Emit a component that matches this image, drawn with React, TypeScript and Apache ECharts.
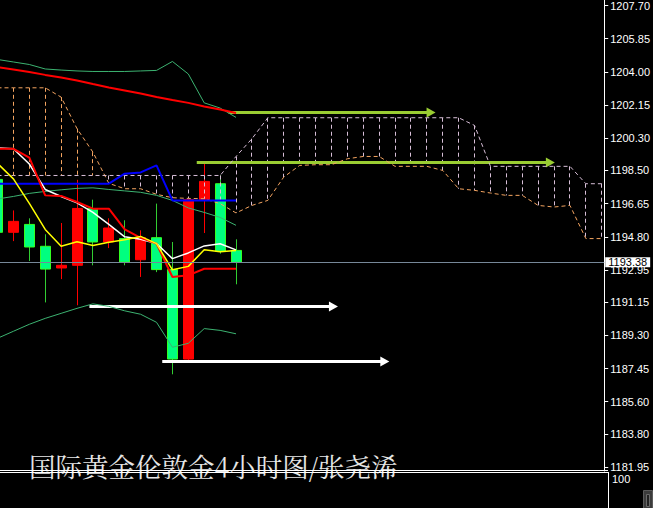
import React, { useEffect, useRef } from 'react';
import * as echarts from 'echarts';

// ---------- data ----------
const TITLE = '国际黄金伦敦金4小时图/张尧浠';
const SUB_WINDOW_LABEL = '100';
const Y_TICK_LABELS = ['1207.70', '1205.85', '1204.00', '1202.15', '1200.30', '1198.50', '1196.65', '1194.80', '1192.95', '1191.15', '1189.30', '1187.45', '1185.60', '1183.80', '1181.95'];
const CURRENT_PRICE = 1193.38;

// candles (index 0 is the partly hidden one at the left edge)
const CANDLE_OPEN = [1198.00, 1195.05, 1195.49, 1194.27, 1193.06, 1193.21, 1196.37, 1194.51, 1194.70, 1193.52, 1194.75, 1192.97, 1187.98, 1196.87, 1197.76, 1194.04];
const CANDLE_CLOSE = [1195.05, 1195.66, 1194.23, 1193.00, 1193.21, 1196.38, 1194.51, 1195.29, 1193.39, 1194.75, 1192.97, 1187.98, 1196.87, 1197.89, 1194.00, 1193.38];
const CANDLE_LOW = [1194.60, 1194.56, 1193.45, 1191.14, 1192.44, 1190.98, 1193.21, 1194.17, 1193.21, 1192.56, 1192.83, 1187.13, 1187.76, 1195.01, 1193.86, 1192.15];
const CANDLE_HIGH = [1198.30, 1196.27, 1195.83, 1194.94, 1195.57, 1197.98, 1196.87, 1195.83, 1195.72, 1195.16, 1196.65, 1194.51, 1196.90, 1198.88, 1198.22, 1194.66];

// indicators on the candles
const BB_UPPER = [1204.69, 1204.55, 1204.41, 1204.16, 1204.10, 1204.05, 1204.02, 1204.02, 1204.02, 1204.05, 1204.08, 1204.58, 1203.88, 1202.27, 1201.98, 1201.46];
const BB_MID = [1196.91, 1197.05, 1197.22, 1197.33, 1197.42, 1197.50, 1197.53, 1197.44, 1197.36, 1197.28, 1197.11, 1196.83, 1196.41, 1196.16, 1195.88, 1195.44];
const BB_LOWER = [1189.14, 1189.53, 1189.92, 1190.25, 1190.53, 1190.81, 1191.06, 1190.92, 1190.67, 1190.48, 1190.03, 1188.64, 1188.86, 1189.68, 1189.58, 1189.39];
const MA_SLOW = [1204.27, 1204.13, 1203.99, 1203.83, 1203.69, 1203.52, 1203.32, 1203.13, 1202.96, 1202.79, 1202.60, 1202.43, 1202.27, 1202.07, 1201.90, 1201.71];
const TENKAN = [1199.71, 1199.71, 1199.21, 1197.11, 1197.08, 1196.74, 1196.37, 1196.37, 1195.21, 1194.74, 1194.42, 1192.56, 1192.65, 1193.02, 1193.02, 1193.02];
const KIJUN = [1197.76, 1197.76, 1197.76, 1197.76, 1197.76, 1197.76, 1197.76, 1197.76, 1198.32, 1198.39, 1198.78, 1196.83, 1196.83, 1196.83, 1196.83, 1196.83];
const MA_WHITE = [1199.76, 1199.71, 1198.86, 1197.44, 1197.05, 1196.69, 1196.16, 1195.49, 1194.80, 1194.66, 1194.43, 1193.58, 1193.90, 1194.29, 1194.41, 1194.07];
const MA_YELLOW = [1198.89, 1198.03, 1196.66, 1195.21, 1194.27, 1194.52, 1194.32, 1194.49, 1194.63, 1194.82, 1194.42, 1192.96, 1193.15, 1194.08, 1193.96, 1194.04];

// Ichimoku cloud (runs 23 bars past the last candle)
const SPAN_A = [1203.11, 1203.11, 1203.11, 1203.11, 1202.59, 1200.83, 1199.52, 1197.78, 1197.48, 1197.48, 1197.17, 1196.98, 1196.94, 1196.92, 1196.65, 1196.13, 1196.55, 1196.83, 1198.13, 1198.78, 1198.82, 1198.82, 1199.15, 1199.28, 1199.28, 1198.73, 1198.73, 1198.73, 1198.50, 1197.48, 1197.39, 1197.24, 1197.11, 1197.11, 1196.55, 1196.46, 1196.55, 1194.70, 1194.70];
const SPAN_B = [1198.22, 1198.22, 1198.22, 1198.22, 1198.22, 1198.22, 1198.22, 1198.22, 1198.22, 1198.22, 1198.22, 1198.22, 1198.22, 1198.22, 1198.22, 1199.28, 1200.27, 1201.44, 1201.44, 1201.44, 1201.44, 1201.44, 1201.44, 1201.44, 1201.44, 1201.44, 1201.44, 1201.44, 1201.44, 1201.44, 1201.01, 1198.73, 1198.73, 1198.73, 1198.73, 1198.73, 1198.73, 1197.76, 1197.76];

// hand-drawn arrows (bar index start / end, price)
const GREEN_ARROW_START = [14.53, 12.53];
const GREEN_ARROW_END = [27.55, 35.05];
const GREEN_ARROW_PRICE = [1201.75, 1198.97];
const WHITE_ARROW_START = [5.78, 10.36];
const WHITE_ARROW_END = [21.41, 24.64];
const WHITE_ARROW_PRICE = [1190.94, 1187.87];

// ---------- helpers ----------
const toLine = (arr: number[]) => arr.map((v, i) => [i, v]);
const AXIS_FONT = '"Liberation Sans Narrow", "Arial Narrow", "Liberation Sans", Arial, sans-serif';

function lineSeries(data: number[], color: string, width: number, dash?: number[]) {
  return {
    type: 'line',
    data: toLine(data),
    showSymbol: false,
    symbol: 'none',
    clip: true,
    silent: true,
    lineStyle: { color, width, type: dash ? dash : 'solid' },
  };
}

function arrowRenderer(color: string) {
  return (params: any, api: any) => {
    const p0 = api.coord([api.value(0), api.value(2)]);
    const p1 = api.coord([api.value(1), api.value(2)]);
    const y = Math.round(p0[1]) + 0.5;
    const headLen = 9;
    const headHalf = 5;
    return {
      type: 'group',
      children: [
        { type: 'line', shape: { x1: p0[0], y1: y, x2: p1[0] - headLen + 1, y2: y }, style: { stroke: color, lineWidth: 3 } },
        {
          type: 'polygon',
          shape: { points: [[p1[0] - headLen, y - headHalf], [p1[0], y], [p1[0] - headLen, y + headHalf]] },
          style: { fill: color },
        },
      ],
    };
  };
}

export default function App() {
  const ref = useRef<HTMLDivElement>(null);

  useEffect(() => {
    if (!ref.current) return;
    const chart = echarts.init(ref.current, null, { renderer: 'svg' });

    const candleData = CANDLE_OPEN.map((o, i) => [i, o, CANDLE_CLOSE[i], CANDLE_LOW[i], CANDLE_HIGH[i]]);
    const cloudData = SPAN_A.map((a, i) => [i, a, SPAN_B[i]]);
    const greenArrows = GREEN_ARROW_START.map((s, i) => [s, GREEN_ARROW_END[i], GREEN_ARROW_PRICE[i]]);
    const whiteArrows = WHITE_ARROW_START.map((s, i) => [s, WHITE_ARROW_END[i], WHITE_ARROW_PRICE[i]]);
    const tickValues = Y_TICK_LABELS.map((t) => parseFloat(t));

    const option: any = {
      animation: false,
      backgroundColor: '#000000',
      title: {
        text: TITLE,
        left: 24,
        top: 447,
        textStyle: { color: '#e6e6e6', fontSize: 26.5, fontWeight: 'normal', fontFamily: '"Noto Serif CJK SC", "Noto Sans CJK SC", sans-serif' },
      },
      grid: { left: 0, right: 45, top: 0, bottom: 37, containLabel: false },
      xAxis: { type: 'value', show: false, min: 0.15625, max: 38.15625 },
      yAxis: {
        type: 'value',
        position: 'right',
        min: 1181.737,
        max: 1208.007,
        splitLine: { show: false },
        axisLine: { show: true, lineStyle: { color: '#ffffff', width: 1 } },
        axisTick: { show: true, length: 4, customValues: tickValues, lineStyle: { color: '#ffffff' } },
        axisLabel: {
          show: true,
          customValues: tickValues,
          formatter: (v: number) => v.toFixed(2),
          color: '#ffffff',
          fontSize: 11,
          fontFamily: AXIS_FONT,
          margin: 6,
        },
      },
      graphic: [
        { type: 'line', shape: { x1: 0, y1: 470.5, x2: 608, y2: 470.5 }, style: { stroke: '#ffffff', lineWidth: 1 }, z: 10 },
        { type: 'line', shape: { x1: 0, y1: 472.5, x2: 608, y2: 472.5 }, style: { stroke: '#ffffff', lineWidth: 1 }, z: 10 },
        { type: 'line', shape: { x1: 608.5, y1: 472, x2: 608.5, y2: 508 }, style: { stroke: '#ffffff', lineWidth: 1 }, z: 10 },
        { type: 'text', x: 612, y: 479, style: { text: SUB_WINDOW_LABEL, fill: '#ffffff', font: '11px ' + AXIS_FONT, verticalAlign: 'middle' }, z: 10 },
        { type: 'rect', shape: { x: 643.5, y: 490.5, width: 9, height: 18 }, style: { fill: '#3c3c3c', stroke: '#5a5a5a', lineWidth: 1 }, z: 10 },
        { type: 'rect', shape: { x: 646.5, y: 494.5, width: 3, height: 12 }, style: { fill: '#222222', stroke: '#6a6a6a', lineWidth: 1 }, z: 10 },
      ],
      series: [
        // bid line
        {
          type: 'line',
          data: [],
          silent: true,
          markLine: {
            silent: true,
            symbol: ['none', 'none'],
            animation: false,
            lineStyle: { color: '#778899', width: 1, type: 'solid' },
            label: {
              show: true,
              position: 'end',
              distance: 1,
              formatter: () => CURRENT_PRICE.toFixed(2),
              backgroundColor: '#ffffff',
              color: '#000000',
              fontSize: 11,
              lineHeight: 10,
              fontFamily: AXIS_FONT,
              padding: [0, 3, 0, 3],
            },
            data: [{ yAxis: CURRENT_PRICE }],
          },
        },
        // candles
        {
          type: 'custom',
          clip: true,
          silent: true,
          encode: { x: 0, y: [1, 2, 3, 4] },
          data: candleData,
          renderItem: (params: any, api: any) => {
            const x = api.value(0);
            const o = api.value(1);
            const c = api.value(2);
            const lo = api.value(3);
            const hi = api.value(4);
            const pO = api.coord([x, o]);
            const pC = api.coord([x, c]);
            const pL = api.coord([x, lo]);
            const pH = api.coord([x, hi]);
            const xc = Math.floor(pO[0]) + 0.5;
            const up = c > o;
            const top = Math.min(pO[1], pC[1]);
            const bot = Math.max(pO[1], pC[1]);
            const wick = up ? '#ff0000' : '#32cd32';
            const fill = up ? '#ff0000' : '#00ff7f';
            const stroke = up ? '#ff0000' : '#33ff22';
            return {
              type: 'group',
              children: [
                { type: 'line', shape: { x1: xc, y1: pH[1], x2: xc, y2: pL[1] }, style: { stroke: wick, lineWidth: 1 } },
                { type: 'rect', shape: { x: xc - 5, y: top, width: 10, height: Math.max(2, bot - top) }, style: { fill, stroke, lineWidth: 1 } },
              ],
            };
          },
        },
        // cloud hatching
        {
          type: 'custom',
          clip: true,
          silent: true,
          encode: { x: 0, y: [1, 2] },
          data: cloudData,
          renderItem: (params: any, api: any) => {
            const i = api.value(0);
            const a = api.value(1);
            const b = api.value(2);
            const pa = api.coord([i, a]);
            const pb = api.coord([i, b]);
            const xc = Math.floor(pa[0]) + 0.5;
            return {
              type: 'line',
              shape: { x1: xc, y1: Math.min(pa[1], pb[1]), x2: xc, y2: Math.max(pa[1], pb[1]) },
              style: { stroke: a > b ? '#f4a460' : '#d8bfd8', lineWidth: 1, lineDash: [4, 3] },
            };
          },
        },
        lineSeries(SPAN_A, '#f4a460', 1, [4, 3]),
        lineSeries(SPAN_B, '#d8bfd8', 1, [4, 3]),
        lineSeries(BB_UPPER, '#3cb371', 1),
        lineSeries(BB_MID, '#3cb371', 1),
        lineSeries(BB_LOWER, '#3cb371', 1),
        lineSeries(MA_SLOW, '#ff0000', 2),
        lineSeries(KIJUN, '#0000ff', 2),
        lineSeries(MA_WHITE, '#ffffff', 1.5),
        lineSeries(TENKAN, '#ff0000', 2),
        lineSeries(MA_YELLOW, '#ffff00', 1.5),
        {
          type: 'custom',
          clip: true,
          silent: true,
          encode: { x: [0, 1], y: 2 },
          data: greenArrows,
          renderItem: arrowRenderer('#9acd32'),
        },
        {
          type: 'custom',
          clip: true,
          silent: true,
          encode: { x: [0, 1], y: 2 },
          data: whiteArrows,
          renderItem: arrowRenderer('#ffffff'),
        },
      ],
    };

    chart.setOption(option);
    return () => chart.dispose();
  }, []);

  return (
    <div
      ref={ref}
      style={{ position: 'fixed', left: 0, top: 0, width: 653, height: 508, background: '#000000' }}
    />
  );
}
